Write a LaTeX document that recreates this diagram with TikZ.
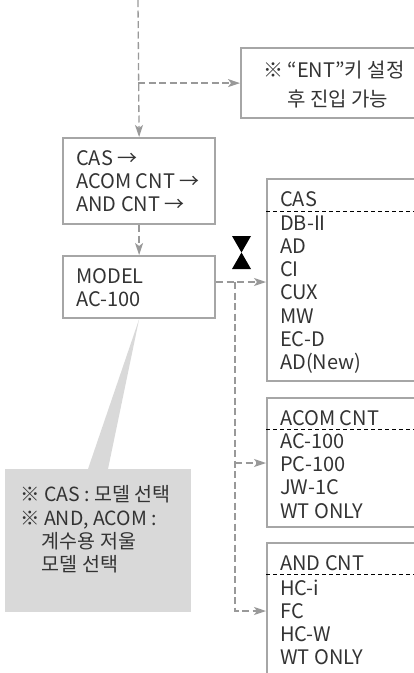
\documentclass[tikz,border=0pt]{standalone}
\usepackage{fontspec}
\setmainfont{Noto Sans CJK KR}
\usetikzlibrary{arrows.meta,positioning}
\definecolor{boxgray}{HTML}{A6A6A6}
\definecolor{linegray}{HTML}{999999}
\definecolor{notegray}{HTML}{D9D9D9}
\definecolor{textgray}{HTML}{333333}
\tikzset{
  box/.style={draw=boxgray,line width=2.2pt,anchor=north west,inner sep=0pt},
  flow/.style={draw=linegray,line width=1.3pt,dash pattern=on 7pt off 3.5pt},
  tip/.style={-{Stealth[length=12pt,width=8pt,inset=3pt]}},
  item/.style={anchor=base west,inner sep=0pt,text=textgray,font=\fontsize{20}{23}\selectfont},
  note/.style={item,font=\fontsize{19.5}{23}\selectfont},
  sep/.style={draw=black,line width=0.8pt,dash pattern=on 4pt off 3pt}
}
\begin{document}
\begin{tikzpicture}[x=1pt,y=-1pt]
\clip (0,0) rectangle (414,673);
% boxes
\node[box,minimum width=180pt,minimum height=70pt] (ent) at (240,47) {};
\node[box,minimum width=152pt,minimum height=86pt] (sel) at (62,137) {};
\node[box,minimum width=152pt,minimum height=62pt] (model) at (62,255) {};
\node[box,minimum width=160pt,minimum height=202pt] (cas) at (266,178) {};
\node[box,minimum width=160pt,minimum height=129pt] (acom) at (266,397) {};
\node[box,minimum width=160pt,minimum height=140pt] (and) at (266,542) {};
% callout
\node[fill=notegray,anchor=north west,minimum width=186pt,minimum height=143pt,inner sep=0pt] (memo) at (5,469) {};
\fill[notegray] (model.south) -- ([xshift=83pt]memo.north west) -- ([xshift=103pt]memo.north west) -- cycle;
% texts
\node[item] (ent1) at (263,77) {※ “ENT”키 설정};
\node[item] (ent2) at (287,106) {후 진입 가능};
\node[item] (sel1) at (76,165) {CAS →};
\node[item] (sel2) at (76,188) {ACOM CNT →};
\node[item] (sel3) at (76,211.5) {AND CNT →};
\node[item] (mod1) at (76,283) {MODEL};
\node[item] (mod2) at (76,306.5) {AC-100};
\node[item] (cash) at (280,206) {CAS};
\node[item] (acomh) at (280,425) {ACOM CNT};
\node[item] (andh) at (280,570) {AND CNT};
\draw[sep] ([yshift=-33pt]cas.north west) -- ([yshift=-33pt]cas.north east);
\draw[sep] ([yshift=-32pt]acom.north west) -- ([yshift=-32pt]acom.north east);
\draw[sep] ([yshift=-32pt]and.north west) -- ([yshift=-32pt]and.north east);
\foreach \t [count=\i from 0] in {DB-II,AD,CI,CUX,MW,EC-D,AD(New)}
  \node[item] (cas\i) at (280,230+23.33*\i) {\t};
\foreach \t [count=\i from 0] in {AC-100,PC-100,JW-1C,WT ONLY}
  \node[item] (acom\i) at (280,448.3+23.33*\i) {\t};
\foreach \t [count=\i from 0] in {HC-i,FC,HC-W,WT ONLY}
  \node[item] (and\i) at (280,595+23.33*\i) {\t};
\node[note] (memo1) at (20,501.7) {※ CAS : 모델 선택};
\node[note] (memo2) at (20,525) {※ AND, ACOM :};
\node[note] (memo3) at (41.7,548) {계수용 저울};
\node[note] (memo4) at (41.7,571.7) {모델 선택};
% connectors
\coordinate (top) at (138,0);
\coordinate (split) at (235,282);
\coordinate (tee) at (235,463);
\coordinate (turn) at (235,611);
\draw[flow,tip] (top) -- (sel.north);
\draw[flow,tip] (top |- ent.west) -- (ent.west);
\draw[flow,tip] (sel.south) -- (model.north);
\draw[flow,tip] (model.east |- split) -- (split -| cas.west);
\draw[flow,tip] (split) -- (turn) -- (turn -| and.west);
\draw[flow,tip] (tee) -- (tee -| acom.west);
% hourglass
\fill (232,236) -- (251,236) -- (241.5,252.5) -- cycle;
\fill (241.5,252.5) -- (232,269) -- (251,269) -- cycle;
\end{tikzpicture}
\end{document}
